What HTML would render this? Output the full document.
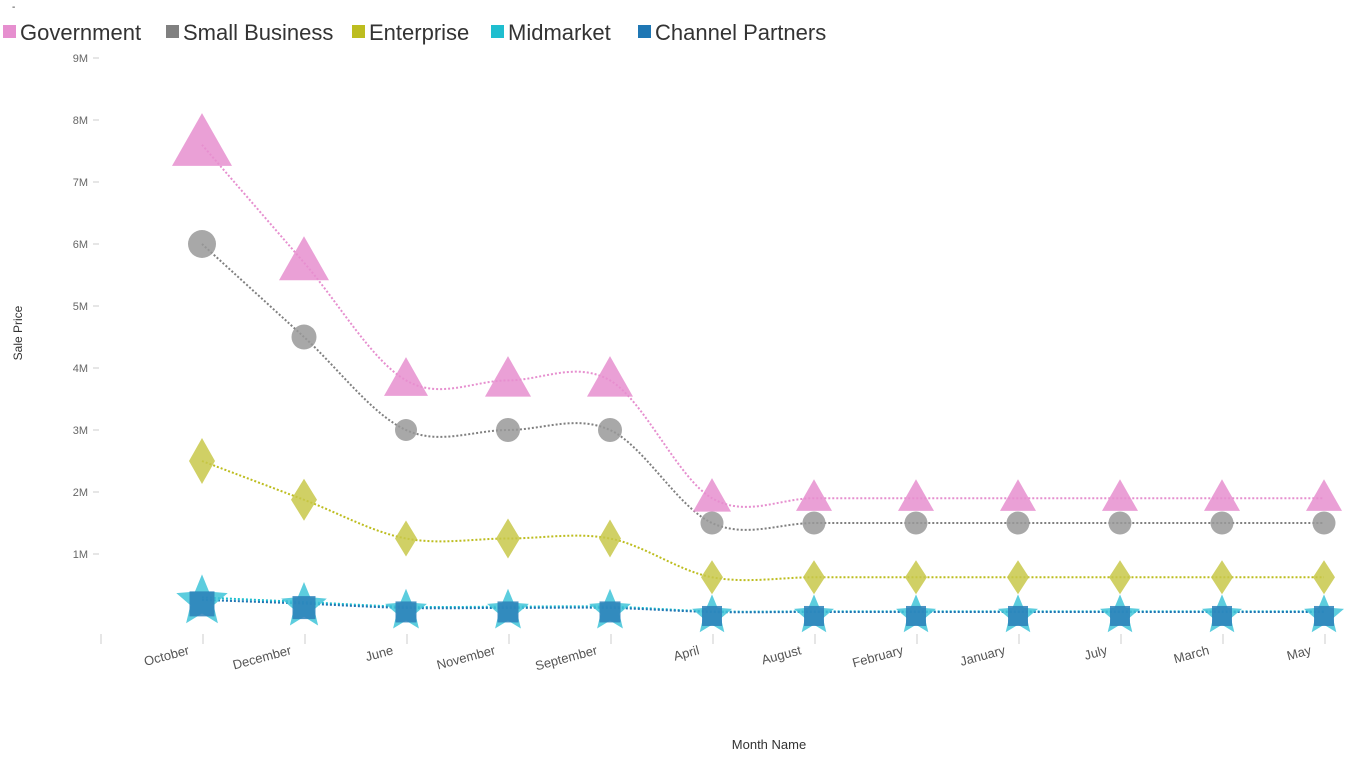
<!DOCTYPE html>
<html><head><meta charset="utf-8"><style>
html,body{margin:0;padding:0;background:#fff;width:1366px;height:768px;overflow:hidden}
svg{display:block;font-family:"Liberation Sans",sans-serif}
</style></head><body>
<svg id="c" width="1366" height="768" xmlns="http://www.w3.org/2000/svg">
<text x="12" y="10" font-size="10" fill="#333">-</text>
<g font-size="22" fill="#333">
<rect x="3" y="25" width="13" height="13" fill="#e68fcf"/><text x="20" y="40">Government</text>
<rect x="166" y="25" width="13" height="13" fill="#808080"/><text x="183" y="40">Small Business</text>
<rect x="352" y="25" width="13" height="13" fill="#bdbd1f"/><text x="369" y="40">Enterprise</text>
<rect x="491" y="25" width="13" height="13" fill="#1fbecf"/><text x="508" y="40">Midmarket</text>
<rect x="638" y="25" width="13" height="13" fill="#1f77b4"/><text x="655" y="40">Channel Partners</text>
</g>
<text transform="translate(22,333) rotate(-90)" font-size="12" fill="#333" text-anchor="middle">Sale Price</text>
<text x="769" y="749" font-size="13" fill="#333" text-anchor="middle">Month Name</text>
<g id="g"></g>
</svg>
<script>
var NS="http://www.w3.org/2000/svg",g=document.getElementById("g");
function el(t,a){var e=document.createElementNS(NS,t);for(var k in a)e.setAttribute(k,a[k]);g.appendChild(e);return e;}
function Y(v){return 616-v*62;}
for(var i=1;i<=9;i++){var y=Y(i);var t=el("text",{x:88,y:y+4,"font-size":11,fill:"#666","text-anchor":"end"});t.textContent=i+"M";el("line",{x1:93,x2:99,y1:y,y2:y,stroke:"#ccc"});}
var months=["October","December","June","November","September","April","August","February","January","July","March","May"];
var X=months.map(function(m,i){return 202+i*102;});
for(var i=0;i<=12;i++){var tx=101+i*102;el("line",{x1:tx,x2:tx,y1:634,y2:644,stroke:"#ccc"});}
months.forEach(function(m,i){var t=el("text",{transform:"translate("+(X[i]-12)+",654) rotate(-15)","font-size":13,fill:"#555","text-anchor":"end"});t.textContent=m;});
function path(vals,col,w){var p=vals.map(function(v,i){return[X[i],Y(v)];});var d="M"+p[0][0]+","+p[0][1];
for(var i=0;i<p.length-1;i++){var a=p[i-1]||p[i],b=p[i],c=p[i+1],e=p[i+2]||c;
d+=" C"+(b[0]+(c[0]-a[0])/6)+","+(b[1]+(c[1]-a[1])/6)+" "+(c[0]-(e[0]-b[0])/6)+","+(c[1]-(e[1]-b[1])/6)+" "+c[0]+","+c[1];}
el("path",{d:d,fill:"none",stroke:col,"stroke-width":w||2,"stroke-dasharray":"2,2"});}
var gov=[7.6,5.7,3.8,3.8,3.8,1.9,1.9,1.9,1.9,1.9,1.9,1.9];
var sb=[6,4.5,3,3,3,1.5,1.5,1.5,1.5,1.5,1.5,1.5];
var en=[2.5,1.875,1.25,1.25,1.25,0.625,0.625,0.625,0.625,0.625,0.625,0.625];
var mm=[0.3,0.225,0.15,0.15,0.15,0.075,0.075,0.075,0.075,0.075,0.075,0.075];
var cp=[0.26,0.2,0.13,0.13,0.13,0.065,0.065,0.065,0.065,0.065,0.065,0.065];
path(gov,"#e68fcf");path(sb,"#808080");path(en,"#bdbd1f");path(mm,"#1fbecf");path(cp,"#1f77b4");
var gs=[60,50,44,46,46,38,36,36,36,36,36,36];
gov.forEach(function(v,i){var s=gs[i],x=X[i],y=Y(v),h=s*0.88;
el("polygon",{points:x+","+(y-h*0.6)+" "+(x-s/2)+","+(y+h*0.4)+" "+(x+s/2)+","+(y+h*0.4),fill:"#e68fcf","fill-opacity":0.85});});
var cr=[14,12.5,11,12,12,11.5,11.5,11.5,11.5,11.5,11.5,11.5];
sb.forEach(function(v,i){el("circle",{cx:X[i],cy:Y(v),r:cr[i],fill:"#999","fill-opacity":0.85});});
var dw=[[26,46],[26,42],[22,36],[24,40],[22,38],[22,34],[22,34],[22,34],[22,34],[22,34],[22,34],[22,34]];
en.forEach(function(v,i){var x=X[i],y=Y(v),w=dw[i][0]/2,h=dw[i][1]/2;
el("polygon",{points:x+","+(y-h)+" "+(x+w)+","+y+" "+x+","+(y+h)+" "+(x-w)+","+y,fill:"#c8c84a","fill-opacity":0.85});});
function star(x,y,R){var p=[];for(var k=0;k<10;k++){var r=k%2?R*0.45:R,a=-Math.PI/2+k*Math.PI/5;p.push((x+r*Math.cos(a)).toFixed(1)+","+(y+r*Math.sin(a)).toFixed(1));}return p.join(" ");}
var sr=[27,24,22,22,22,21,21,21,21,21,21,21];
mm.forEach(function(v,i){el("polygon",{points:star(X[i],Y(v)+4,sr[i]),fill:"#3fc4d8","fill-opacity":0.85});});
var ss=[25,23,21,21,21,20,20,20,20,20,20,20];
cp.forEach(function(v,i){var s=ss[i];el("rect",{x:X[i]-s/2,y:Y(v)-s/2+4,width:s,height:s,fill:"#2a7fb8","fill-opacity":0.85});});
</script>
</body></html>
